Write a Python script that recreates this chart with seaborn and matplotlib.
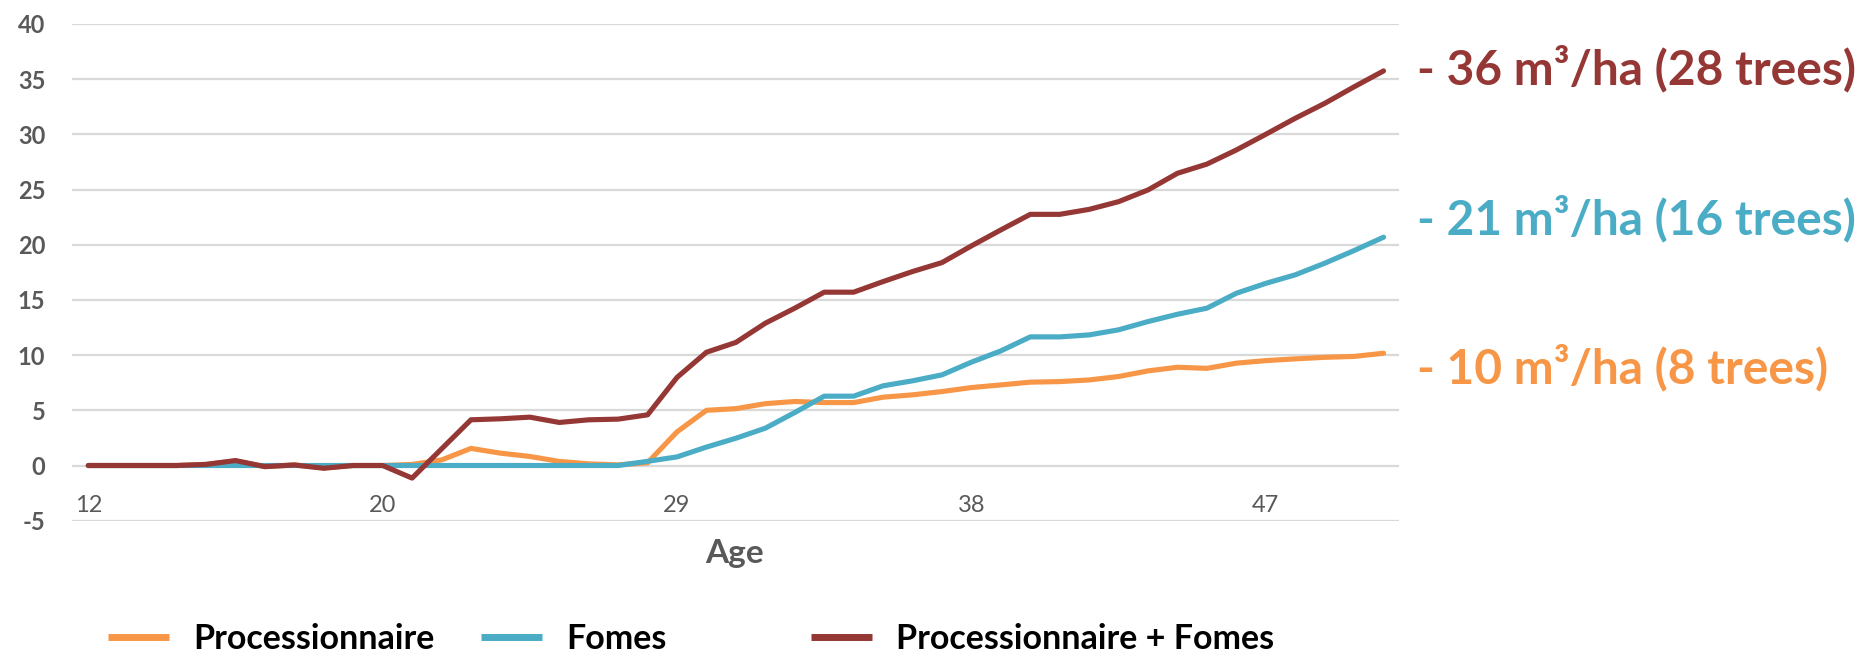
import numpy as np
import pandas as pd
import matplotlib
matplotlib.use("Agg")
import matplotlib.pyplot as plt
from matplotlib.lines import Line2D
import seaborn as sns

# ---------------- data ----------------
age_tick_labels = ["12", "20", "29", "38", "47"]
series_names = ["Processionnaire", "Fomes", "Processionnaire + Fomes"]
processionnaire = [0, 0, 0, 0, 0.1, 0.4, -0.1, 0.05, -0.2, 0, 0,
                   0.1, 0.5, 1.55, 1.12, 0.82, 0.37, 0.15, 0.06, 0.25,
                   3.05, 5.0, 5.15, 5.6, 5.8, 5.7, 5.7, 6.19, 6.4, 6.7,
                   7.06, 7.3, 7.55, 7.6, 7.75, 8.06, 8.57, 8.9, 8.8, 9.27,
                   9.5, 9.66, 9.8, 9.88, 10.17]
fomes = [0, 0, 0, 0, 0, 0, 0, 0, 0, 0, 0, 0, 0, 0, 0, 0, 0, 0, 0,
         0.38, 0.78, 1.67, 2.47, 3.38, 4.8, 6.28, 6.28, 7.22, 7.67, 8.21,
         9.36, 10.38, 11.65, 11.65, 11.83, 12.29, 13.04, 13.7, 14.25, 15.6,
         16.5, 17.27, 18.32, 19.47, 20.68]
combined = [0, 0, 0, 0, 0.1, 0.45, -0.1, 0.05, -0.25, 0, 0,
            -1.14, 1.5, 4.14, 4.23, 4.38, 3.9, 4.14, 4.2, 4.59,
            7.98, 10.26, 11.15, 12.89, 14.25, 15.7, 15.7, 16.66, 17.57, 18.38,
            19.89, 21.34, 22.75, 22.75, 23.2, 23.9, 24.96, 26.47, 27.3, 28.58,
            30.0, 31.45, 32.8, 34.3, 35.74]
end_labels = ["- 10 m\u00b3/ha (8 trees)", "- 21 m\u00b3/ha (16 trees)",
              "- 36 m\u00b3/ha (28 trees)"]
y_ticks = list(range(-5, 41, 5))
colors = ["#F79646", "#4BACC6", "#953735"]

n = len(processionnaire)
df = pd.DataFrame({
    "step": np.tile(np.arange(n), 3),
    "value": processionnaire + fomes + combined,
    "series": np.repeat(series_names, n),
})

# ---------------- style ----------------
sns.set_style("white")
plt.rcParams["font.family"] = ["Lato", "DejaVu Sans"]
plt.rcParams["axes.unicode_minus"] = False

fig = plt.figure(figsize=(18.74, 6.64), dpi=100)
ax = fig.add_axes([0.0383, 0.2158, 0.7083, 0.7482])

for y in y_ticks:
    ax.axhline(y, color="#D9D9D9", lw=1.6, zorder=0)

sns.lineplot(data=df, x="step", y="value", hue="series", hue_order=series_names,
             palette=colors, lw=3.7, ax=ax, legend=False,
             solid_capstyle="round", solid_joinstyle="round")

ax.set_xlim(-0.56, n - 1 + 0.53)
ax.set_ylim(-5, 40)
for s in ax.spines.values():
    s.set_visible(False)

ax.set_yticks(y_ticks)
ax.set_xticks(np.arange(0, n, 10))
ax.set_xticklabels(age_tick_labels)
ax.spines["bottom"].set_position(("data", 0))
ax.tick_params(axis="y", length=0, pad=19, labelsize=17, labelcolor="#595959")
ax.tick_params(axis="x", length=0, pad=21, labelsize=17, labelcolor="#595959")
for lbl in ax.get_yticklabels():
    lbl.set_fontweight("bold")

ax.set_xlabel("")
ax.set_ylabel("")
fig.text(0.392, 0.166, "Age", ha="center", va="center", fontsize=24,
         fontweight="bold", color="#595959")

# end-of-line labels
label_y = [0.446, 0.671, 0.897]
for txt, col, yy in zip(end_labels, colors, label_y):
    fig.text(0.756, yy, txt, ha="left", va="center", fontsize=34.5,
             fontweight="bold", color=col)

# legend (three entries spaced as in the original)
legend_x = [0.0576, 0.2567, 0.4328]
for name, col, lx in zip(series_names, colors, legend_x):
    h = Line2D([0], [0], color=col, lw=5, solid_capstyle="butt")
    fig.legend(handles=[h], labels=[name], loc="center left",
               bbox_to_anchor=(lx, 0.0377), frameon=False, borderpad=0,
               borderaxespad=0, handlelength=1.8, handletextpad=0.7,
               labelcolor="black", prop={"weight": "bold", "size": 24.5})

fig.savefig("out.png", dpi=100, facecolor="white")
